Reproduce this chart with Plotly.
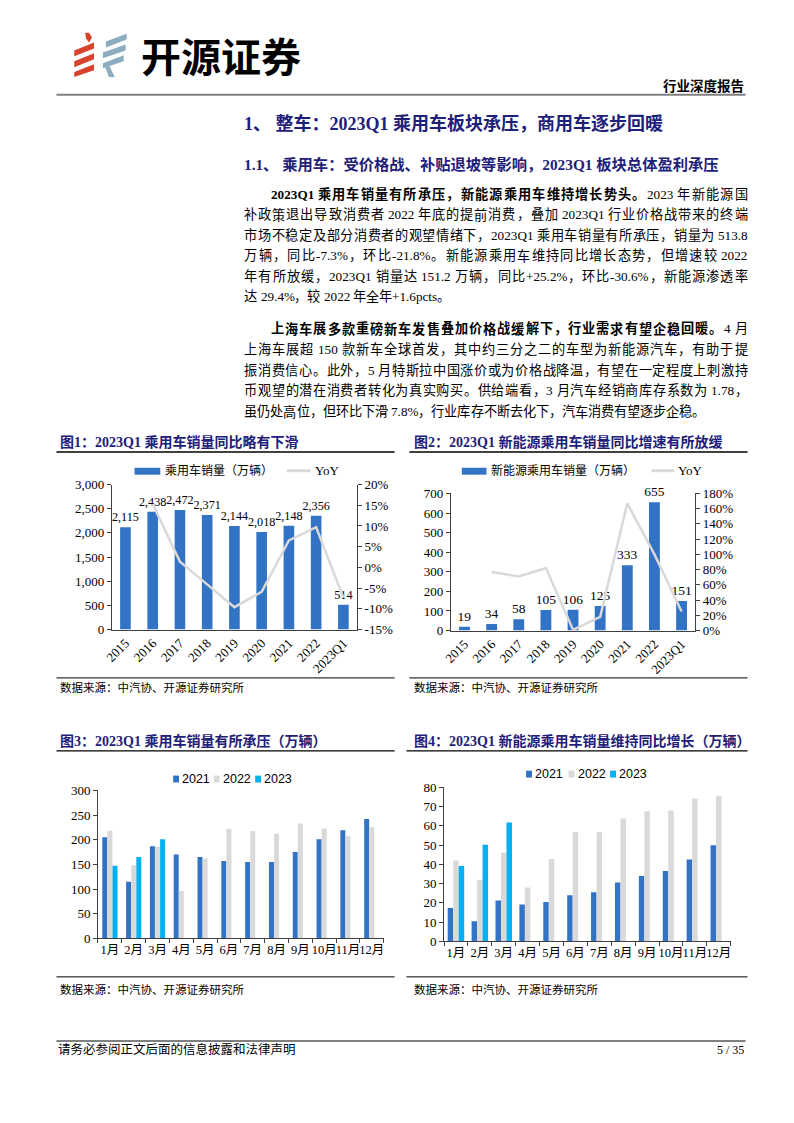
import plotly.graph_objects as go

W, H = 794, 1123
def px(x): return x / W
def py(y): return 1 - y / H

SERIF = "Liberation Serif, Noto Sans CJK SC, serif"
SANS = "Liberation Sans, Arial, sans-serif"
NAVY = "#1E2079"
BLUE = "#3273C5"
GRAY = "#D9D9D9"
CYAN = "#00B0F0"
AXIS = "#404040"

# ---------------- data ----------------
years = ["2015", "2016", "2017", "2018", "2019", "2020", "2021", "2022", "2023Q1"]
pv_sales = [2115, 2438, 2472, 2371, 2144, 2018, 2148, 2356, 514]
pv_yoy = [None, 15.3, 1.4, -4.1, -9.6, -5.9, 6.5, 9.7, -7.3]
nev_sales = [19, 34, 58, 105, 106, 125, 333, 655, 151]
nev_yoy = [None, 77, 71, 82, 1, 18, 167, 100, 25]

months = ["1月", "2月", "3月", "4月", "5月", "6月", "7月", "8月", "9月", "10月", "11月", "12月"]
pv_2021 = [205, 115, 187, 170, 165, 157, 155, 155, 175, 201, 219, 242]
pv_2022 = [218, 148, 186, 96, 162, 222, 217, 212, 233, 223, 207, 226]
pv_2023 = [147, 165, 201]
nev_2021 = [17.3, 10.5, 21.2, 19.2, 20.4, 24.0, 25.5, 30.6, 34.0, 36.6, 42.6, 50.0]
nev_2022 = [42.0, 32.0, 46.0, 28.0, 42.8, 56.8, 56.7, 63.9, 67.6, 68.0, 74.3, 75.7]
nev_2023 = [39.2, 50.2, 61.8]

c1_left_ticks = [0, 500, 1000, 1500, 2000, 2500, 3000]
c1_left_text = ["0", "500", "1,000", "1,500", "2,000", "2,500", "3,000"]
c1_right_ticks = [-15, -10, -5, 0, 5, 10, 15, 20]
c1_right_text = ["-15%", "-10%", "-5%", "0%", "5%", "10%", "15%", "20%"]
c2_left_ticks = [0, 100, 200, 300, 400, 500, 600, 700]
c2_right_ticks = [0, 20, 40, 60, 80, 100, 120, 140, 160, 180]
c2_right_text = [f"{v}%" for v in c2_right_ticks]
c3_ticks = [0, 50, 100, 150, 200, 250, 300]
c4_ticks = [0, 10, 20, 30, 40, 50, 60, 70, 80]

fig = go.Figure()

# ---------------- chart 1 ----------------
fig.add_trace(go.Bar(
    x=years, y=pv_sales, xaxis="x", yaxis="y", marker=dict(color=BLUE, line=dict(width=0)),
    width=0.39, text=[f"{v:,}" for v in pv_sales], textposition="outside", textangle=0,
    textfont=dict(family=SERIF, size=12.2, color="black"), constraintext="none",
    cliponaxis=False, showlegend=False, hoverinfo="skip"))
fig.add_trace(go.Scatter(
    x=years, y=pv_yoy, xaxis="x", yaxis="y2", mode="lines",
    line=dict(color=GRAY, width=2.5), showlegend=False, hoverinfo="skip"))

# ---------------- chart 2 ----------------
fig.add_trace(go.Bar(
    x=years, y=nev_sales, xaxis="x2", yaxis="y3", marker=dict(color=BLUE, line=dict(width=0)),
    width=0.4, text=[str(v) for v in nev_sales], textposition="outside", textangle=0,
    textfont=dict(family=SERIF, size=13.5, color="black"), constraintext="none",
    cliponaxis=False, showlegend=False, hoverinfo="skip"))
fig.add_trace(go.Scatter(
    x=years, y=nev_yoy, xaxis="x2", yaxis="y4", mode="lines",
    line=dict(color=GRAY, width=2.5), showlegend=False, hoverinfo="skip"))

# ---------------- chart 3 ----------------
for vals, col, off, xs in [(pv_2021, BLUE, -0.32, months), (pv_2022, GRAY, -0.105, months),
                           (pv_2023, CYAN, 0.11, months[:3])]:
    fig.add_trace(go.Bar(x=xs, y=vals, xaxis="x3", yaxis="y5", width=0.21, offset=off,
                         marker=dict(color=col, line=dict(width=0)), showlegend=False, hoverinfo="skip"))

# ---------------- chart 4 ----------------
for vals, col, off, xs in [(nev_2021, BLUE, -0.345, months), (nev_2022, GRAY, -0.115, months),
                           (nev_2023, CYAN, 0.115, months[:3])]:
    fig.add_trace(go.Bar(x=xs, y=vals, xaxis="x4", yaxis="y6", width=0.23, offset=off,
                         marker=dict(color=col, line=dict(width=0)), showlegend=False, hoverinfo="skip"))

tickf = dict(family=SERIF, size=13, color="black")

def xaxis(x0, x1, anchor, **kw):
    d = dict(domain=[px(x0), px(x1)], anchor=anchor, type="category", showline=True,
             linecolor=AXIS, linewidth=1, showgrid=False, zeroline=False, tickfont=tickf,
             fixedrange=True)
    d.update(kw)
    return d

def yaxis(y0, y1, anchor, rng, tv, tt, **kw):
    d = dict(domain=[py(y0), py(y1)], anchor=anchor, range=rng, tickvals=tv, ticktext=tt,
             showline=True, linecolor=AXIS, linewidth=1, ticks="outside", ticklen=4,
             tickcolor=AXIS, showgrid=False, zeroline=False, tickfont=tickf, fixedrange=True)
    d.update(kw)
    return d

month_font = dict(family=SERIF, size=12.5, color="black")
layout = dict(
    width=W, height=H, margin=dict(l=0, r=0, t=0, b=0),
    paper_bgcolor="white", plot_bgcolor="rgba(0,0,0,0)", barmode="overlay", showlegend=False,
    xaxis=xaxis(104, 352, "y", ticks="", tickangle=-45, tickfont=dict(family=SERIF, size=13, color="black")),
    yaxis=yaxis(631, 484, "x", [0, 3000], c1_left_ticks, c1_left_text),
    yaxis2=yaxis(631, 484, "x", [-15, 20], c1_right_ticks, c1_right_text, overlaying="y", side="right"),
    xaxis2=xaxis(447, 694, "y3", ticks="", tickangle=-45, tickfont=dict(family=SERIF, size=13, color="black")),
    yaxis3=yaxis(632, 493, "x2", [0, 700], c2_left_ticks, [str(v) for v in c2_left_ticks]),
    yaxis4=yaxis(632, 493, "x2", [0, 180], c2_right_ticks, c2_right_text, overlaying="y3", side="right"),
    xaxis3=xaxis(90, 379, "y5", ticks="outside", tickson="boundaries", ticklen=4, tickcolor=AXIS,
                 tickangle=0, tickfont=month_font),
    yaxis5=yaxis(944, 794, "x3", [0, 300], c3_ticks, [str(v) for v in c3_ticks]),
    xaxis4=xaxis(440, 730, "y6", ticks="outside", tickson="boundaries", ticklen=4, tickcolor=AXIS,
                 tickangle=0, tickfont=month_font),
    yaxis6=yaxis(947, 791, "x4", [0, 80], c4_ticks, [str(v) for v in c4_ticks]),
)
fig.update_layout(**layout)

annotations = []
shapes = []

def txt(x, y, s, size=13, color="black", family=SERIF, xanchor="left", weight=None):
    f = dict(family=family, size=size, color=color)
    if weight:
        f["weight"] = weight
    annotations.append(dict(x=px(x), y=py(y), xref="paper", yref="paper", text=s, showarrow=False,
                            xanchor=xanchor, yanchor="middle", font=f))

def line(x0, y0, x1, y1, color="black", width=1):
    shapes.append(dict(type="line", xref="paper", yref="paper", x0=px(x0), y0=py(y0),
                       x1=px(x1), y1=py(y1), line=dict(color=color, width=width)))

def rect(x0, y0, x1, y1, color):
    shapes.append(dict(type="rect", xref="paper", yref="paper", x0=px(x0), y0=py(y0),
                       x1=px(x1), y1=py(y1), fillcolor=color, line=dict(width=0)))

def poly(pts, color):
    path = "M " + " L ".join(f"{px(a):.5f},{py(b):.5f}" for a, b in pts) + " Z"
    shapes.append(dict(type="path", xref="paper", yref="paper", path=path,
                       fillcolor=color, line=dict(width=0)))

# ---- justified body text: each line laid out token by token ----
LAT_W = {".": 0.25, ",": 0.25, "%": 0.833, "-": 0.333, "+": 0.564, "Q": 0.722,
         "p": 0.5, "c": 0.444, "t": 0.278, "s": 0.389}

def tokens_of(segments):
    toks = []          # [text, bold, width_em, gap_em]
    gap = 0.0
    cur = None
    for seg, bold in segments:
        for ch in seg:
            if ch == " ":
                if cur:
                    toks.append(cur); cur = None
                gap += 0.25
            elif ord(ch) < 128:
                w = LAT_W.get(ch, 0.5)
                if cur and cur[1] == bold:
                    cur[0] += ch; cur[2] += w
                else:
                    if cur:
                        toks.append(cur)
                    cur = [ch, bold, w, gap]; gap = 0.0
            else:
                if cur:
                    toks.append(cur); cur = None
                toks.append([ch, bold, 1.0, gap]); gap = 0.0
    if cur:
        toks.append(cur)
    return toks

def body_line(x0, x1, y, segments, fs, justify=True):
    toks = tokens_of(segments)
    natural = sum(t[2] + t[3] for t in toks[1:]) + toks[0][2]
    extra = 0.0
    if justify and len(toks) > 1:
        extra = max(0.0, ((x1 - x0) - natural * fs) / (len(toks) - 1))
    x = x0
    for i, (s, bold, w, g) in enumerate(toks):
        if i > 0:
            x += g * fs + extra
        txt(x, y, f"<b>{s}</b>" if bold else s, size=fs)
        x += w * fs

# ---------------- header ----------------
RED = "#D8432E"
LOGOGRAY = "#8CADC0"
poly([(77, 26), (81, 26), (84, 31), (81, 36), (78, 32)], RED)
poly([(66, 44), (86, 36), (86, 42), (66, 50)], RED)
poly([(66, 55), (86, 47), (86, 53), (66, 61)], RED)
poly([(66, 66), (86, 58), (86, 64), (66, 71)], RED)
poly([(98, 35), (119, 27), (119, 33), (98, 41)], LOGOGRAY)
poly([(95, 46), (118, 38), (118, 44), (95, 52)], LOGOGRAY)
poly([(95, 57), (116, 49), (116, 55), (95, 62)], LOGOGRAY)
poly([(97, 60), (102, 60), (104, 65), (107, 71), (101, 71), (99, 65)], LOGOGRAY)
txt(131, 49, "开源证券", size=40, family="Noto Sans CJK SC", weight=600)
txt(745, 80, "<b>行业深度报告</b>", size=13.5, xanchor="right")
line(48, 89, 745, 89, color="#808080", width=2)

# ---------------- headings & body ----------------
txt(236, 118, "<b>1、 整车：2023Q1 乘用车板块承压，商用车逐步回暖</b>", size=18, color=NAVY)
txt(236, 160, "<b>1.1、 乘用车：受价格战、补贴退坡等影响，2023Q1 板块总体盈利承压</b>", size=15.3, color=NAVY)

FS = 13.2
p1 = [
    (263, [("2023Q1 乘用车销量有所承压，新能源乘用车维持增长势头。", True), ("2023 年新能源国", False)]),
    (236, [("补政策退出导致消费者 2022 年底的提前消费，叠加 2023Q1 行业价格战带来的终端", False)]),
    (236, [("市场不稳定及部分消费者的观望情绪下，2023Q1 乘用车销量有所承压，销量为 513.8", False)]),
    (236, [("万辆，同比-7.3%，环比-21.8%。新能源乘用车维持同比增长态势，但增速较 2022", False)]),
    (236, [("年有所放缓，2023Q1 销量达 151.2 万辆，同比+25.2%，环比-30.6%，新能源渗透率", False)]),
    (236, [("达 29.4%，较 2022 年全年+1.6pcts。", False)]),
]
for i, (x, segs) in enumerate(p1):
    body_line(x, 745, 190 + i * 20.7, segs, FS, justify=(i < len(p1) - 1))

p2 = [
    (263, [("上海车展多款重磅新车发售叠加价格战缓解下，行业需求有望企稳回暖。", True), ("4 月", False)]),
    (236, [("上海车展超 150 款新车全球首发，其中约三分之二的车型为新能源汽车，有助于提", False)]),
    (236, [("振消费信心。此外，5 月特斯拉中国涨价或为价格战降温，有望在一定程度上刺激持", False)]),
    (236, [("币观望的潜在消费者转化为真实购买。供给端看，3 月汽车经销商库存系数为 1.78，", False)]),
    (236, [("虽仍处高位，但环比下滑 7.8%，行业库存不断去化下，汽车消费有望逐步企稳。", False)]),
]
for i, (x, segs) in enumerate(p2):
    body_line(x, 745, 326 + i * 21, segs, FS, justify=(i < len(p2) - 1))

# ---------------- chart titles, rules, sources ----------------
src = "数据来源：中汽协、开源证券研究所"
txt(50, 441, "<b>图1：2023Q1 乘用车销量同比略有下滑</b>", size=14, color=NAVY)
line(48, 451, 390, 451, width=1.3)
line(48, 680, 390, 680, width=1)
txt(50, 690, src, size=11.5)

txt(408, 441, "<b>图2：2023Q1 新能源乘用车销量同比增速有所放缓</b>", size=14, color=NAVY)
line(405, 451, 747, 451, width=1.3)
line(405, 680, 747, 680, width=1)
txt(408, 690, src, size=11.5)

txt(50, 744, "<b>图3：2023Q1 乘用车销量有所承压（万辆）</b>", size=14, color=NAVY)
line(48, 754, 390, 754, width=1.3)
line(48, 983, 390, 983, width=1)
txt(50, 996, src, size=11.5)

txt(408, 744, "<b>图4：2023Q1 新能源乘用车销量维持同比增长（万辆）</b>", size=14, color=NAVY)
line(402, 754, 747, 754, width=1.3)
line(402, 983, 747, 983, width=1)
txt(408, 996, src, size=11.5)

# ---------------- legends ----------------
rect(127, 467, 153, 474, BLUE)
txt(156, 470, "乘用车销量（万辆）", size=12)
line(281, 470, 305, 470, color=GRAY, width=3)
txt(307, 470, "YoY", size=13)

rect(458, 467, 483, 474, BLUE)
txt(486, 470, "新能源乘用车销量（万辆）", size=12)
line(650, 470, 673, 470, color=GRAY, width=3)
txt(675, 470, "YoY", size=13)

for x0, col, lab in [(166, BLUE, "2021"), (207, GRAY, "2022"), (249, CYAN, "2023")]:
    rect(x0, 779, x0 + 6, 786, col)
    txt(x0 + 7, 782, lab, size=12.5, family=SANS)
for x0, col, lab in [(523, BLUE, "2021"), (566, GRAY, "2022"), (608, CYAN, "2023")]:
    rect(x0, 774, x0 + 6, 781, col)
    txt(x0 + 7, 777, lab, size=12.5, family=SANS)

# ---------------- footer ----------------
line(48, 1048, 745, 1048, width=1)
txt(48, 1057, "请务必参阅正文后面的信息披露和法律声明", size=12.5)
txt(745, 1057, "5 / 35", size=12, xanchor="right")

fig.update_layout(annotations=annotations, shapes=shapes)
fig.write_html("out.html", config={"displayModeBar": False, "staticPlot": True},
               post_script="document.body.style.margin='0';")
